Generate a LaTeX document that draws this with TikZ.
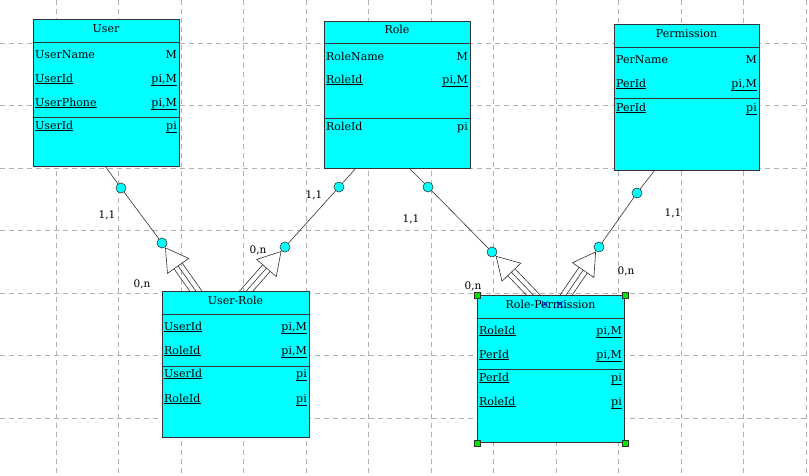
\documentclass[tikz,border=0pt]{standalone}
\usepackage{fontspec}
\setmainfont{DejaVu Serif}
\usetikzlibrary{calc,backgrounds}
\definecolor{ercyan}{RGB}{0,255,255}
\definecolor{ergreen}{RGB}{0,230,0}
\tikzset{
  ergrid/.style={draw=black!30, line width=0.7pt, dash pattern=on 5pt off 4pt},
  erbox/.style={draw=black!80, fill=ercyan, line width=0.9pt, anchor=north west,
    inner sep=0pt, minimum width=146pt, minimum height=147pt},
  erline/.style={draw=black!80, line width=0.9pt},
  ertitle/.style={anchor=base, inner sep=0pt, font=\fontsize{11}{13}\selectfont},
  erattr/.style={anchor=base west, inner sep=0pt, font=\fontsize{11}{13}\selectfont},
  erkey/.style={anchor=base east, inner sep=0pt, font=\fontsize{11}{13}\selectfont},
  ercard/.style={inner sep=0pt, font=\fontsize{10.5}{12}\selectfont},
  erlink/.style={draw=black!80, line width=0.6pt},
  erdot/.style={circle, draw=black!80, fill=ercyan, line width=0.6pt,
    minimum size=10pt, inner sep=0pt},
  erhandle/.style={draw=black!80, fill=ergreen, line width=0.6pt,
    minimum size=6pt, inner sep=0pt},
  ermark/.style={draw=blue, line width=0.6pt}
}
% hollow inheritance arrow with triple shaft
\newcommand\inharrow[2]{%
  \coordinate (#1-tip) at ($(#1)!6pt!(#2)$);
  \coordinate (#1-base) at ($(#1)!28pt!(#2)$);
  \draw[erlink, fill=white] (#1-tip) -- ($(#1-base)!13pt!90:(#2)$)
    -- ($(#1-base)!13pt!-90:(#2)$) -- cycle;
  \foreach \a/\b in {90/-90,-90/90}
    \draw[erlink] ($(#1-base)!5pt!\a:(#2)$) -- ($(#2)!5pt!\b:(#1-base)$);
  \draw[erlink] (#1-base) -- (#2);
}

\begin{document}
\begin{tikzpicture}[x=1pt,y=-1pt]
  \useasboundingbox (0,0) rectangle (809,475);

  % entities
  \node[erbox] (user) at (33,19) {};
  \draw[erline] (33,42) -- (179,42);
  \draw[erline] (33,117) -- (179,117);
  \node[ertitle] (user-t) at (106,32) {User};
  \node[erattr] (user-a1) at (35,58) {UserName};
  \node[erkey] (user-k1) at (177,58) {M};
  \node[erattr] (user-a2) at (35,82) {\underline{UserId}};
  \node[erkey] (user-k2) at (177,82) {\underline{pi,M}};
  \node[erattr] (user-a3) at (35,106) {\underline{UserPhone}};
  \node[erkey] (user-k3) at (177,106) {\underline{pi,M}};
  \node[erattr] (user-a4) at (35,129) {\underline{UserId}};
  \node[erkey] (user-k4) at (177,129) {\underline{pi}};

  \node[erbox] (role) at (324,21) {};
  \draw[erline] (324,43) -- (470,43);
  \draw[erline] (324,118) -- (470,118);
  \node[ertitle] (role-t) at (397,33) {Role};
  \node[erattr] (role-a1) at (326,60) {RoleName};
  \node[erkey] (role-k1) at (468,60) {M};
  \node[erattr] (role-a2) at (326,83) {\underline{RoleId}};
  \node[erkey] (role-k2) at (468,83) {\underline{pi,M}};
  \node[erattr] (role-a3) at (326,130) {RoleId};
  \node[erkey] (role-k3) at (468,130) {pi};

  \node[erbox, minimum width=145pt, minimum height=146pt] (perm) at (614,24) {};
  \draw[erline] (614,47) -- (759,47);
  \draw[erline] (614,98) -- (759,98);
  \node[ertitle] (perm-t) at (686.5,37) {Permission};
  \node[erattr] (perm-a1) at (616,63) {PerName};
  \node[erkey] (perm-k1) at (757,63) {M};
  \node[erattr] (perm-a2) at (616,87) {\underline{PerId}};
  \node[erkey] (perm-k2) at (757,87) {\underline{pi,M}};
  \node[erattr] (perm-a3) at (616,111) {\underline{PerId}};
  \node[erkey] (perm-k3) at (757,111) {\underline{pi}};

  \node[erbox, minimum width=147pt, minimum height=146pt] (ur) at (162,291) {};
  \draw[erline] (162,314) -- (309,314);
  \draw[erline] (162,366) -- (309,366);
  \node[ertitle] (ur-t) at (235.5,304) {User-Role};
  \node[erattr] (ur-a1) at (164,330) {\underline{UserId}};
  \node[erkey] (ur-k1) at (307,330) {\underline{pi,M}};
  \node[erattr] (ur-a2) at (164,354) {\underline{RoleId}};
  \node[erkey] (ur-k2) at (307,354) {\underline{pi,M}};
  \node[erattr] (ur-a3) at (164,377) {\underline{UserId}};
  \node[erkey] (ur-k3) at (307,377) {\underline{pi}};
  \node[erattr] (ur-a4) at (164,402) {\underline{RoleId}};
  \node[erkey] (ur-k4) at (307,402) {\underline{pi}};

  \node[erbox, minimum width=147pt] (rp) at (477,295) {};
  \draw[erline] (477,318) -- (624,318);
  \draw[erline] (477,369) -- (624,369);
  \node[ertitle] (rp-t) at (550.5,308) {Role-Permission};
  \node[erattr] (rp-a1) at (479,334) {\underline{RoleId}};
  \node[erkey] (rp-k1) at (622,334) {\underline{pi,M}};
  \node[erattr] (rp-a2) at (479,358) {\underline{PerId}};
  \node[erkey] (rp-k2) at (622,358) {\underline{pi,M}};
  \node[erattr] (rp-a3) at (479,381) {\underline{PerId}};
  \node[erkey] (rp-k3) at (622,381) {\underline{pi}};
  \node[erattr] (rp-a4) at (479,405) {\underline{RoleId}};
  \node[erkey] (rp-k4) at (622,405) {\underline{pi}};
  \draw[ermark] (545,304) +(-3,-3) -- +(3,3) +(-3,3) -- +(3,-3);
  \draw[ermark] (560,304) +(-3,-3) -- +(3,3) +(-3,3) -- +(3,-3);
  \foreach \c [count=\i] in {north west,north east,south west,south east}
    \node[erhandle] (rp-h\i) at (rp.\c) {};

  % link points
  \coordinate (l1-s) at (105,166);
  \node[erdot] (l1-a) at (121,188) {};
  \node[erdot] (l1-b) at (162,243) {};
  \coordinate (l1-e) at (200,297);
  \coordinate (l2-s) at (357,167);
  \node[erdot] (l2-a) at (339,187) {};
  \node[erdot] (l2-b) at (285,247) {};
  \coordinate (l2-e) at (241,297);
  \coordinate (l3-s) at (408,167);
  \node[erdot] (l3-a) at (428,187) {};
  \node[erdot] (l3-b) at (492,252) {};
  \coordinate (l3-e) at (539,301);
  \coordinate (l4-s) at (655,170);
  \node[erdot] (l4-a) at (637,193) {};
  \node[erdot] (l4-b) at (599,247) {};
  \coordinate (l4-e) at (562,301);

  % cardinalities
  \node[ercard] (l1-c1) at (107,215) {1,1};
  \node[ercard] (l1-c2) at (142,284) {0,n};
  \node[ercard] (l2-c1) at (314,195) {1,1};
  \node[ercard] (l2-c2) at (258,250) {0,n};
  \node[ercard] (l3-c1) at (411,219) {1,1};
  \node[ercard] (l3-c2) at (473,286) {0,n};
  \node[ercard] (l4-c1) at (673,213) {1,1};
  \node[ercard] (l4-c2) at (626,271) {0,n};

  \begin{scope}[on background layer]
    % grid
    \foreach \gx in {0,...,12}
      \draw[ergrid] (56+62.5*\gx,0) -- (56+62.5*\gx,475);
    \foreach \gy in {0,...,6}
      \draw[ergrid] (0,43+62.5*\gy) -- (809,43+62.5*\gy);
    % links
    \foreach \l in {l1,l2,l3,l4} {
      \draw[erlink] (\l-s) -- (\l-a) -- (\l-b);
      \inharrow{\l-b}{\l-e}
    }
  \end{scope}
\end{tikzpicture}
\end{document}
